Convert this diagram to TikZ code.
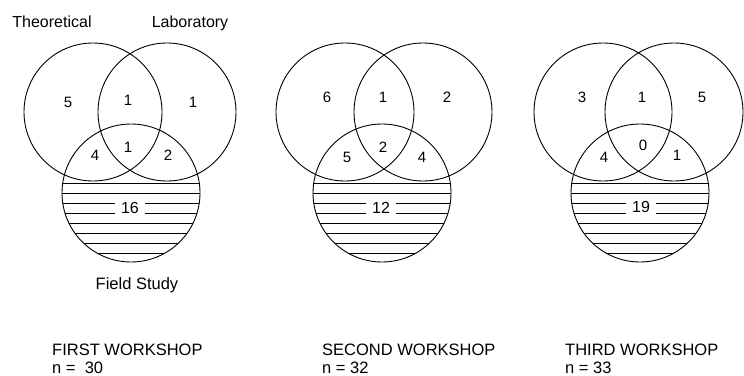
\documentclass[tikz,border=0pt]{standalone}
\usepackage{fontspec}
\setmainfont{Liberation Sans}
\begin{document}
\begin{tikzpicture}[x=1pt,y=-1pt,
  ring/.style={circle, draw, line width=0.9pt, minimum size=138pt, inner sep=0pt},
  num/.style={font=\fontsize{15}{17}\selectfont, inner sep=0pt},
  lab/.style={font=\fontsize{16}{18}\selectfont, inner sep=0pt},
  wlab/.style={font=\fontsize{16.5}{18}\selectfont, inner sep=0pt},
  hatchline/.style={line width=0.9pt},
  count/.style={font=\fontsize{16}{18}\selectfont, fill=white, inner xsep=6pt, inner ysep=4pt}]
\useasboundingbox (0,0) rectangle (744,375);

% ---------- first workshop ----------
\node[ring] (L1) at (93,112) {};
\node[ring] (R1) at (167,112) {};
\node[ring] (B1) at (131,193) {};
\begin{scope}
  \clip (131,193) circle[radius=69pt];
  \foreach \yy in {183,193,...,253} \draw[hatchline] (55,\yy) -- (207,\yy);
\end{scope}
\node[count] (c1) at (130,208) {16};
\node[num] (a1) at (68,102) {5};
\node[num] (b1) at (128,100) {1};
\node[num] (d1) at (193,102) {1};
\node[num] (e1) at (95,155) {4};
\node[num] (f1) at (128,147) {1};
\node[num] (g1) at (168,155) {2};
\node[lab, anchor=base] (theo) at (52,27) {Theoretical};
\node[lab, anchor=base] (labo) at (190,27) {Laboratory};
\node[wlab, anchor=base] (field) at (137,289) {Field Study};
\node[wlab, anchor=base west] (w1) at (52,355) {FIRST WORKSHOP};
\node[wlab, anchor=base west] (n1) at (52,373) {n =\ \ 30};

% ---------- second workshop ----------
\node[ring] (L2) at (345,112) {};
\node[ring] (R2) at (423,112) {};
\node[ring] (B2) at (382,193) {};
\begin{scope}
  \clip (382,193) circle[radius=69pt];
  \foreach \yy in {183,193,...,253} \draw[hatchline] (306,\yy) -- (458,\yy);
\end{scope}
\node[count] (c2) at (381,208) {12};
\node[num] (a2) at (327,97) {6};
\node[num] (b2) at (383,97) {1};
\node[num] (d2) at (447,97) {2};
\node[num] (e2) at (347,157) {5};
\node[num] (f2) at (383,147) {2};
\node[num] (g2) at (422,157) {4};
\node[wlab, anchor=base west] (w2) at (322,355) {SECOND WORKSHOP};
\node[wlab, anchor=base west] (n2) at (322,373) {n = 32};

% ---------- third workshop ----------
\node[ring] (L3) at (603,112) {};
\node[ring] (R3) at (674,112) {};
\node[ring] (B3) at (640,193) {};
\begin{scope}
  \clip (640,193) circle[radius=69pt];
  \foreach \yy in {183,193,...,253} \draw[hatchline] (564,\yy) -- (716,\yy);
\end{scope}
\node[count] (c3) at (641,207) {19};
\node[num] (a3) at (582,97) {3};
\node[num] (b3) at (642,97) {1};
\node[num] (d3) at (702,97) {5};
\node[num] (e3) at (604,157) {4};
\node[num] (f3) at (643,145) {0};
\node[num] (g3) at (677,155) {1};
\node[wlab, anchor=base west] (w3) at (565,355) {THIRD WORKSHOP};
\node[wlab, anchor=base west] (n3) at (565,373) {n = 33};
\end{tikzpicture}
\end{document}
